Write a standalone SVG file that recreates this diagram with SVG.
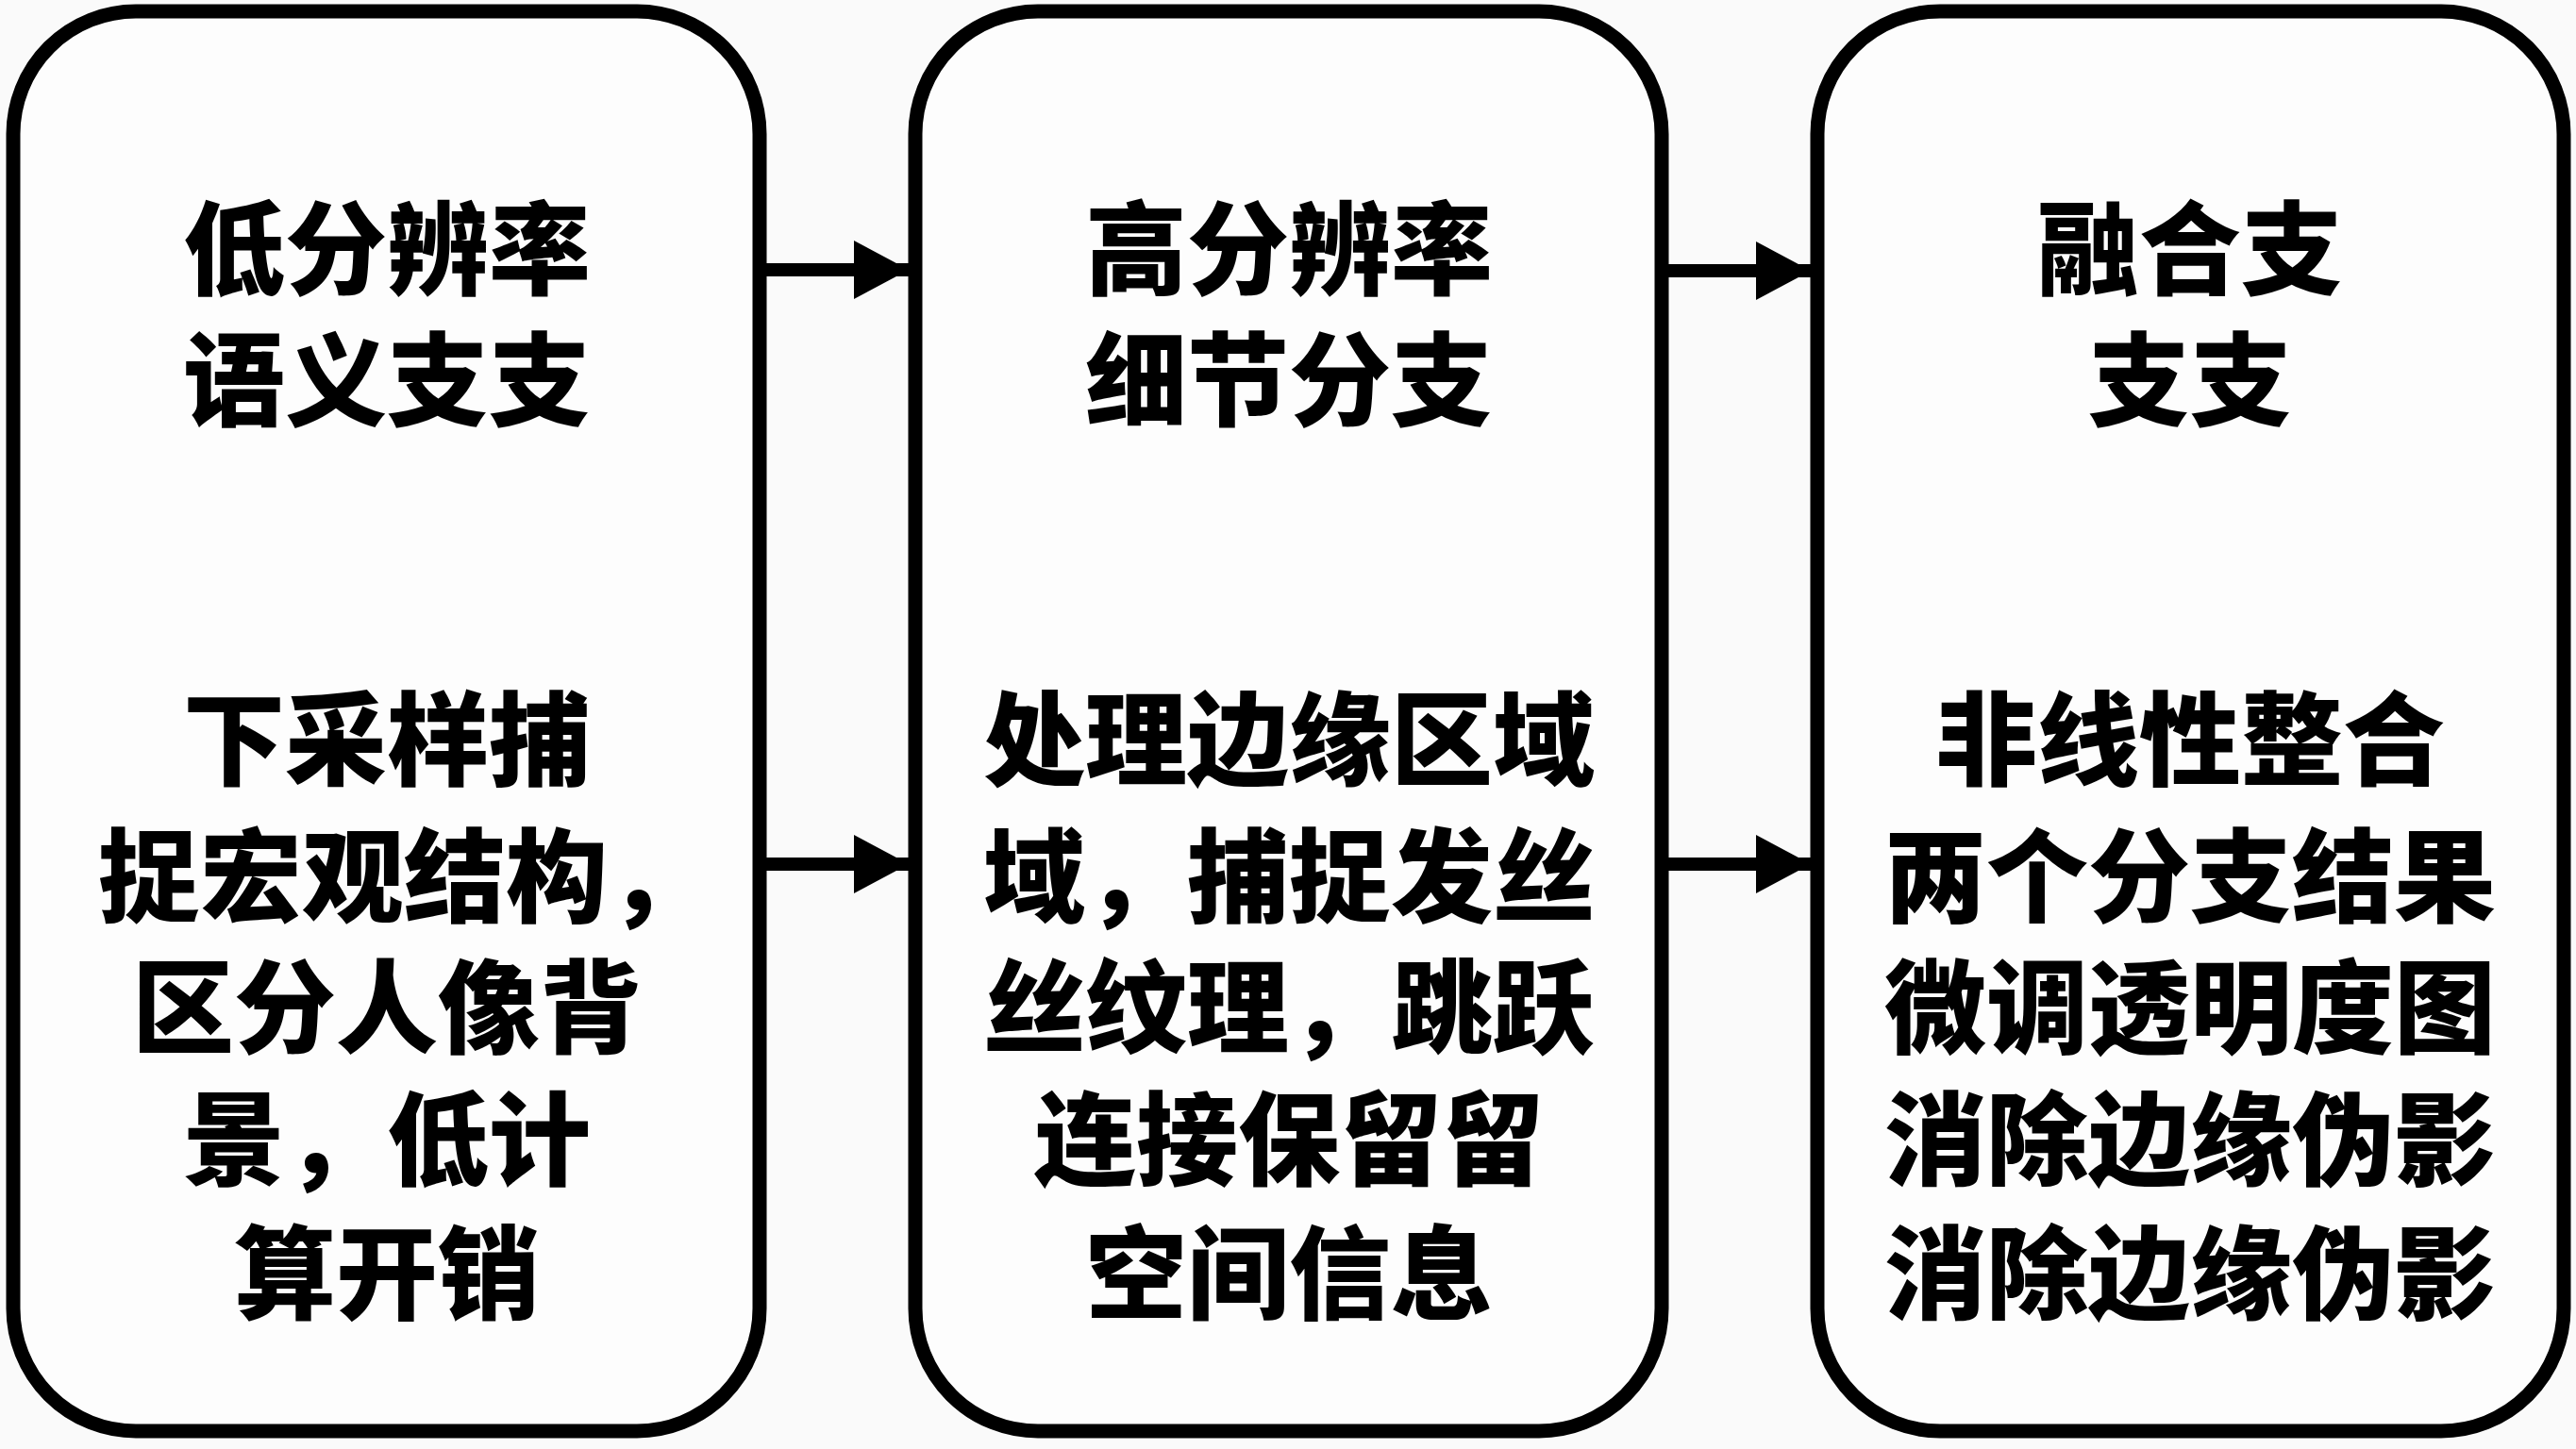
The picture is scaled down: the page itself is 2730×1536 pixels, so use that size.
<svg xmlns="http://www.w3.org/2000/svg" width="2730" height="1536" viewBox="0 0 2730 1536">
<style>
.box{fill:#fdfdfd;stroke:#000;stroke-width:15}
.t{font-family:"Noto Sans CJK SC","Noto Sans",sans-serif;font-weight:900;font-size:108px;fill:#000;text-anchor:middle}
.c{stroke:#000;stroke-width:14;fill:none}
</style>
<defs>
<marker id="ah" markerUnits="userSpaceOnUse" markerWidth="60" markerHeight="62" refX="58" refY="31" orient="auto">
<path d="M0,0 L58,31 L0,62 Z" fill="#000"/>
</marker>
</defs>
<rect width="2730" height="1536" fill="#fafafa"/>
<g id="node1">
<rect class="box" x="14" y="12" width="791" height="1505" rx="130" ry="130"/>
<text class="t" x="410" y="304">低分辨率</text>
<text class="t" x="410" y="443">语义支支</text>
<text class="t" x="410" y="824">下采样捕</text>
<text class="t" x="428" y="969">捉宏观结构，</text>
<text class="t" x="410" y="1108">区分人像背</text>
<text class="t" x="410" y="1248">景，低计</text>
<text class="t" x="410" y="1390">算开销</text>
</g>
<g id="node2">
<rect class="box" x="970" y="12" width="791" height="1505" rx="130" ry="130"/>
<text class="t" x="1366" y="304">高分辨率</text>
<text class="t" x="1366" y="443">细节分支</text>
<text class="t" x="1366" y="824">处理边缘区域</text>
<text class="t" x="1366" y="969">域，捕捉发丝</text>
<text class="t" x="1366" y="1108">丝纹理，跳跃</text>
<text class="t" x="1366" y="1248">连接保留留</text>
<text class="t" x="1366" y="1390">空间信息</text>
</g>
<g id="node3">
<rect class="box" x="1926" y="12" width="791" height="1505" rx="130" ry="130"/>
<text class="t" x="2321" y="304">融合支</text>
<text class="t" x="2321" y="443">支支</text>
<text class="t" x="2321" y="824">非线性整合</text>
<text class="t" x="2321" y="969">两个分支结果</text>
<text class="t" x="2321" y="1108">微调透明度图</text>
<text class="t" x="2321" y="1248">消除边缘伪影</text>
<text class="t" x="2321" y="1390">消除边缘伪影</text>
</g>
<g id="connectors">
<line class="c" x1="812" y1="286" x2="963" y2="286" marker-end="url(#ah)"/>
<line class="c" x1="812" y1="916" x2="963" y2="916" marker-end="url(#ah)"/>
<line class="c" x1="1768" y1="287" x2="1919" y2="287" marker-end="url(#ah)"/>
<line class="c" x1="1768" y1="916" x2="1919" y2="916" marker-end="url(#ah)"/>
</g>
</svg>
